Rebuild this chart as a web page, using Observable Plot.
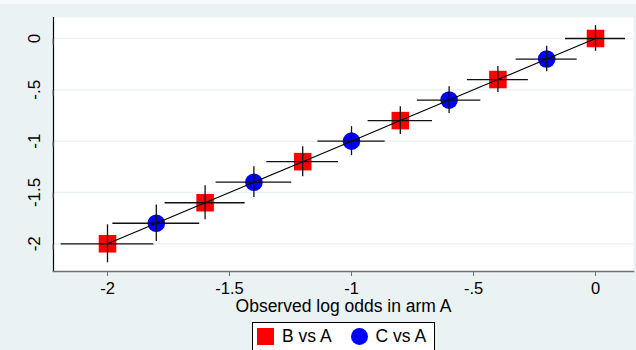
<!DOCTYPE html>
<html>
<head>
<meta charset="utf-8">
<script src="https://cdn.jsdelivr.net/npm/d3@7"></script>
<script src="https://cdn.jsdelivr.net/npm/@observablehq/plot@0.6"></script>
<style>
  html, body { margin: 0; padding: 0; }
  body {
    width: 636px; height: 350px; overflow: hidden; position: relative;
    background: linear-gradient(#f7fafa 0 4px, #eaf2f3 4px);
    font-family: "Liberation Sans", Arial, sans-serif;
  }
  #chart { position: absolute; left: 0; top: 0; }
  #legend {
    position: absolute; left: 252px; top: 322px; width: 181px; height: 27px;
    border: 1px solid #000; background: #fff; box-sizing: content-box;
    display: flex; align-items: center; font-size: 17.5px; color: #000;
  }
  .item { display: flex; align-items: center; }
  .sw { width: 17px; height: 17px; display: inline-block; }
</style>
</head>
<body>
<div id="chart"></div>
<div id="legend"></div>
<script>
// Series: B vs A (red squares) and C vs A (blue circles)
const seriesNames = ["B vs A", "C vs A"];
const seriesColors = ["#ff0000", "#0000ff"];

const xB = [-2.0, -1.6, -1.2, -0.8, -0.4, 0.0];
const yB = [-2.0, -1.6, -1.2, -0.8, -0.4, 0.0];
const xHalfB = [0.19, 0.164, 0.147, 0.132, 0.125, 0.123];
const yHalfB = [0.185, 0.166, 0.146, 0.136, 0.127, 0.125];

const xC = [-1.8, -1.4, -1.0, -0.6, -0.2];
const yC = [-1.8, -1.4, -1.0, -0.6, -0.2];
const xHalfC = [0.178, 0.155, 0.138, 0.13, 0.125];
const yHalfC = [0.177, 0.15, 0.141, 0.13, 0.125];

const xTicks = [-2, -1.5, -1, -0.5, 0];
const yTicks = [0, -0.5, -1, -1.5, -2];
const xLabel = "Observed log odds in arm A";

const fmt = d => d === 0 ? "0" : String(d).replace("0.", ".");

const B = xB.map((x, i) => ({x, y: yB[i], hx: xHalfB[i], hy: yHalfB[i]}));
const C = xC.map((x, i) => ({x, y: yC[i], hx: xHalfC[i], hy: yHalfC[i]}));
const all = [...B, ...C].sort((a, b) => a.x - b.x);

const font = "Liberation Sans, Arial, sans-serif";

const plot = Plot.plot({
  width: 636,
  height: 318,
  marginLeft: 53,
  marginRight: 3,
  marginTop: 17,
  marginBottom: 47,
  style: { background: "transparent", fontFamily: font, fontSize: "17px", color: "#000", overflow: "visible" },
  x: { domain: [-2.2213, 0.1557] },
  y: { domain: [-2.27, 0.2046] },
  marks: [
    Plot.frame({ fill: "white", stroke: null }),
    Plot.ruleY(yTicks, { stroke: "#eaf2f3", strokeWidth: 1.5 }),
    Plot.frame({ anchor: "left", stroke: "#000", strokeWidth: 1.2 }),
    Plot.frame({ anchor: "bottom", stroke: "#707070", strokeWidth: 1.6 }),
    Plot.axisX({ ticks: xTicks, tickFormat: fmt, tickSize: 5, tickPadding: 6, stroke: "#707070", label: null, fontSize: 16.5 }),
    Plot.axisY({ ticks: yTicks, tickFormat: fmt, tickSize: 6, tickPadding: 13, stroke: "#707070", rotate: -90, textAnchor: "middle", lineAnchor: "middle", label: null, fontSize: 17 }),
    Plot.text([xLabel], { text: d => d, frameAnchor: "bottom", lineAnchor: "top", dy: 28, fontSize: 17.5, fill: "#000" }),
    Plot.dot(B, { x: "x", y: "y", symbol: "square", r: 9.9, fill: seriesColors[0], stroke: null }),
    Plot.dot(C, { x: "x", y: "y", symbol: "circle", r: 8.8, fill: seriesColors[1], stroke: null }),
    Plot.line(all, { x: "x", y: "y", stroke: "#000", strokeWidth: 1.1 }),
    Plot.ruleY([...B, ...C], { y: "y", x1: d => d.x - d.hx, x2: d => d.x + d.hx, stroke: "#111", strokeWidth: 1.3 }),
    Plot.ruleX([...B, ...C], { x: "x", y1: d => d.y - d.hy, y2: d => d.y + d.hy, stroke: "#111", strokeWidth: 1.3 })
  ]
});
document.getElementById("chart").appendChild(plot);

// Legend
const legend = document.getElementById("legend");
seriesNames.forEach((name, i) => {
  const item = document.createElement("span");
  item.className = "item";
  item.style.marginLeft = i === 0 ? "4px" : "19px";
  const sw = document.createElement("span");
  sw.className = "sw";
  sw.style.background = seriesColors[i];
  if (i === 1) sw.style.borderRadius = "50%";
  const t = document.createElement("span");
  t.textContent = name;
  t.style.marginLeft = "8px";
  item.appendChild(sw);
  item.appendChild(t);
  legend.appendChild(item);
});
</script>
</body>
</html>
